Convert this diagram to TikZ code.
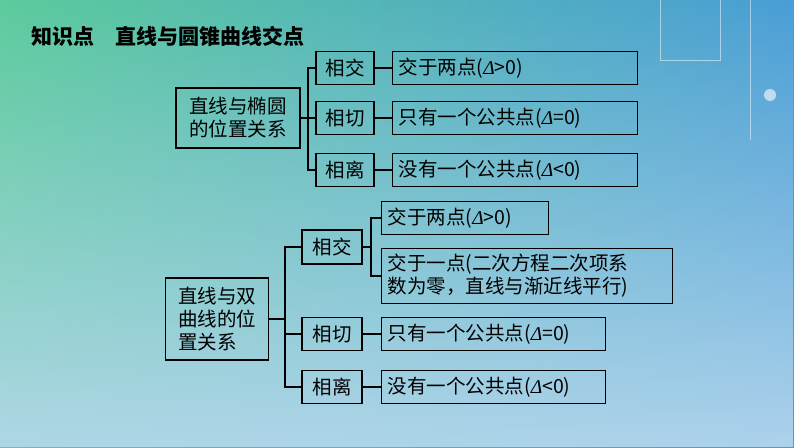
\documentclass[tikz,border=0pt]{standalone}
\usepackage{fontspec}
\setmainfont{Liberation Serif}
\newfontfamily\cjk{Noto Sans CJK SC}
\usetikzlibrary{positioning,fadings}
\definecolor{bgleft}{HTML}{5CCB9C}
\definecolor{bgright}{HTML}{4A9ED6}
\definecolor{bglow}{HTML}{B8D8EE}
\tikzset{
  box/.style={draw=black, line width=1.4pt, inner sep=3pt, font=\cjk\fontsize{19.5}{23}\selectfont, align=left},
  wide/.style={box, anchor=west, inner xsep=6pt, text width=#1-12pt, minimum height=33},
  link/.style={line width=1.2pt}
}
\newcommand{\dl}{{\rmfamily\itshape Δ}}
\begin{document}
\begin{tikzpicture}[x=1pt,y=-1pt]
  % background
  \useasboundingbox (0,0) rectangle (794,447);
  \shade[left color=bgleft, right color=bgright] (0,0) rectangle (794,447);
  \fill[bglow, path fading=north, opacity=0.9] (0,0) rectangle (794,447);
  \draw[white, opacity=0.5, line width=1pt] (660,0) -- (660,60) -- (720,60) -- (720,0);
  \draw[white, opacity=0.5, line width=1pt] (750,0) -- (750,140);
  \fill[white, opacity=0.6] (770,95) circle (6);
  \node[anchor=west, font=\cjk\bfseries\fontsize{21}{25}\selectfont] (title) at (28,36) {知识点\quad 直线与圆锥曲线交点};

  % ellipse
  \node[box, minimum width=124, minimum height=60] (ell) at (238,118) {直线与椭圆\\的位置关系};
  \node[box, minimum width=58, minimum height=33] (e1) at (345,68) {相交};
  \node[box, minimum width=58, minimum height=33] (e2) at (345,118) {相切};
  \node[box, minimum width=58, minimum height=33] (e3) at (345,170) {相离};
  \node[wide=245] (r1) at (392,68) {交于两点(\dl>0)};
  \node[wide=245] (r2) at (392,118) {只有一个公共点(\dl=0)};
  \node[wide=245] (r3) at (392,170) {没有一个公共点(\dl<0)};
  \coordinate (ej) at (308,118);
  \draw[link] (ell.east) -- (ej);
  \draw[link] (e1.west) -| (ej) |- (e3.west);
  \draw[link] (ej) -- (e2.west);
  \draw[link] (e1) -- (r1); \draw[link] (e2) -- (r2); \draw[link] (e3) -- (r3);

  % hyperbola
  \node[box, minimum width=103, minimum height=82] (hyp) at (217,319) {直线与双\\曲线的位\\置关系};
  \node[box, minimum width=60, minimum height=34] (h1) at (332,247) {相交};
  \node[box, minimum width=60, minimum height=33] (h2) at (332,334) {相切};
  \node[box, minimum width=60, minimum height=33] (h3) at (332,387) {相离};
  \node[wide=167] (s1) at (381,218) {交于两点(\dl>0)};
  \node[wide=291, minimum height=55] (s2) at (381,276) {交于一点(二次方程二次项系\\数为零，直线与渐近线平行)};
  \node[wide=224] (s3) at (381,334) {只有一个公共点(\dl=0)};
  \node[wide=224] (s4) at (381,387) {没有一个公共点(\dl<0)};
  \coordinate (hj) at (285,319);
  \coordinate (sj) at (371,247);
  \draw[link] (hyp.east) -- (hj);
  \draw[link] (h1.west) -| (hj) |- (h3.west);
  \draw[link] (hj) |- (h2.west);
  \draw[link] (h1.east) -- (sj);
  \draw[link] (s1.west) -| (sj) |- (s2.west);
  \draw[link] (h2) -- (s3); \draw[link] (h3) -- (s4);
\end{tikzpicture}
\end{document}
